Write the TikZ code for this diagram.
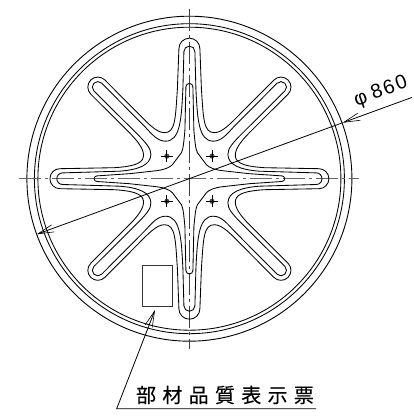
\documentclass[tikz,border=0pt]{standalone}
\usepackage{fontspec}
\setmainfont{Liberation Sans}
\newfontfamily\cjkfont[FakeBold=0.25]{Noto Sans CJK JP}
\usetikzlibrary{arrows.meta}
\tikzset{
  ln/.style={line width=0.85pt,black,line join=round},
  thinln/.style={line width=0.8pt,black},
  axisv/.style={line width=0.8pt,black!75,dash pattern=on 22pt off 4pt on 3pt off 4pt},
  axish/.style={line width=1.3pt,black!60,dash pattern=on 22pt off 4pt on 3pt off 4pt},
  barb/.style={-{Straight Barb[length=16pt,width=7.5pt,line width=0.6pt]}},
}
\begin{document}
\begin{tikzpicture}[x=1pt,y=1pt]
\useasboundingbox (0,0) rectangle (414,417);
\coordinate (C) at (189.4,238.3);
\begin{scope}[shift={(C)}]
  \draw[ln,line width=0.9pt] (0,0) circle[radius=162.5];
  \draw[ln] (0,0) circle[radius=155];
  \draw[ln] (0,0) circle[radius=151.5];
  \draw[axish] (-170,0) -- (170,0);
  \draw[axisv] (0,170) -- (0,-170);
  \foreach \sx/\sy in {1/1,-1/1,1/-1,-1/-1}{
    \begin{scope}[xscale=\sx,yscale=\sy]
      % outer contour
      \draw[ln] (0,140.5) arc[start angle=90,end angle=0,radius=10.5]
        -- (12,90) .. controls (14,60) and (14,46) .. (25,46)
        .. controls (33,46) and (42,56) .. (50,64)
        -- (84.5,98.7) arc[start angle=135,end angle=-45,radius=10]
        -- (60,46) .. controls (50,36) and (45,28) .. (46,22)
        .. controls (47,14) and (60,12) .. (75,11)
        -- (129.5,10) arc[start angle=90,end angle=0,radius=10];
      % inner contour
      \draw[ln] (0,132.6) arc[start angle=90,end angle=0,radius=5.5]
        -- (6.5,90) .. controls (8,60) and (9,37.5) .. (24,37.5)
        .. controls (32,37.5) and (38,45) .. (44,51.5)
        -- (87.7,95.5) arc[start angle=135,end angle=-45,radius=5.5]
        -- (53,45.5) .. controls (44,36.5) and (38,30) .. (38.5,24)
        .. controls (39,14) and (50,9) .. (70,7.5)
        -- (126.8,5.8) arc[start angle=90,end angle=0,radius=5.8];
      % central cross contour
      \draw[ln] (0,95.3) arc[start angle=90,end angle=0,radius=3.5]
        -- (4.5,48) .. controls (5.5,38) and (6,30) .. (8,26)
        -- (17,14) .. controls (20,11) and (25,9) .. (33,8)
        -- (60,5) -- (92.5,2.8) arc[start angle=90,end angle=0,radius=2.8];
      % bolt mark
      \fill[black!70] (22.6,22.6) circle[radius=2.6];
      \draw[line width=1pt,black] (16.6,22.6) -- (28.6,22.6) (22.6,16.6) -- (22.6,28.6);
    \end{scope}
  }
\end{scope}
% dimension line
\coordinate (dimL) at (36.7,182.7);
\coordinate (dimR) at (342.7,294.3);
\coordinate (dimEnd) at (412,319.6);
\draw[thinln,barb] (dimEnd) -- (dimR);
\draw[thinln,barb] (dimR) -- (dimL);
\node[rotate=20,font=\fontsize{20}{20}\selectfont,inner sep=0pt] (dimtext) at (381,325) {φ\hspace{5pt}8\hspace{2pt}6\hspace{2pt}0};
% label plate
\node[draw,line width=1pt,black!80,minimum width=30.5pt,minimum height=41.5pt,inner sep=0pt,outer sep=0pt] (plate) at (157.4,131.1) {};
\coordinate (leadTip) at (155,107);
\coordinate (leadKnee) at (116.7,8.3);
\coordinate (leadEnd) at (316,8.3);
\draw[thinln,barb] (leadEnd) -- (leadKnee) -- (leadTip);
\node[font=\cjkfont\fontsize{20}{20}\selectfont,inner sep=0pt,anchor=center] (ttl) at (225,22) {部\hspace{6.3pt}材\hspace{6.3pt}品\hspace{6.3pt}質\hspace{6.3pt}表\hspace{6.3pt}示\hspace{6.3pt}票};
\end{tikzpicture}
\end{document}
